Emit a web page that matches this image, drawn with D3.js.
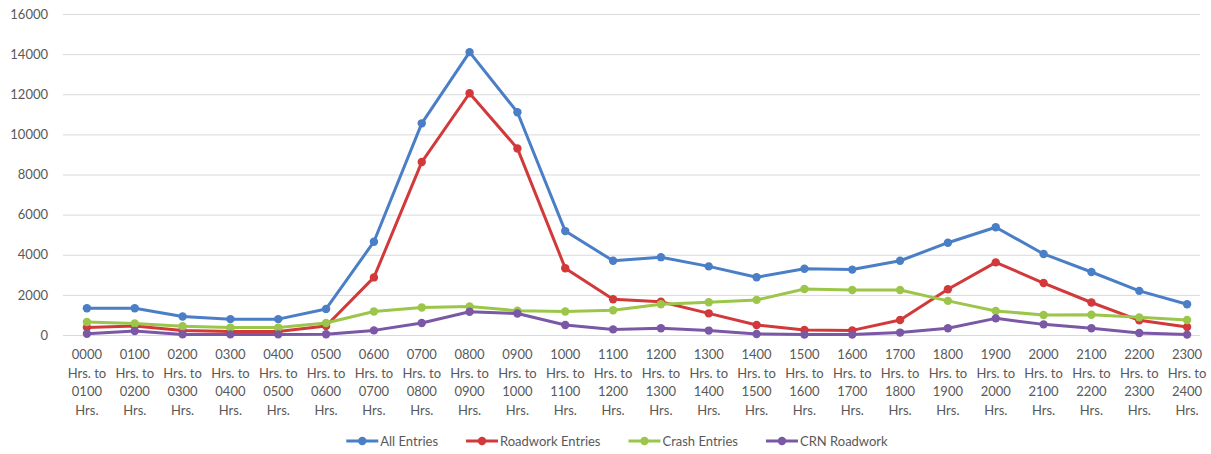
<!DOCTYPE html>
<html>
<head>
<meta charset="utf-8">
<script src="https://cdn.jsdelivr.net/npm/d3@7/dist/d3.min.js"></script>
<style>
  html, body { margin: 0; padding: 0; background: #fff; }
  svg { display: block; }
  text { font-family: Lato, "Open Sans", sans-serif; fill: #595959; }
</style>
</head>
<body>
<svg id="chart" width="1211" height="454"></svg>
<script>
const categories = ["0000","0100","0200","0300","0400","0500","0600","0700","0800","0900","1000","1100",
                    "1200","1300","1400","1500","1600","1700","1800","1900","2000","2100","2200","2300"];
const categoryEnds = ["0100","0200","0300","0400","0500","0600","0700","0800","0900","1000","1100","1200",
                      "1300","1400","1500","1600","1700","1800","1900","2000","2100","2200","2300","2400"];
const seriesNames = ["All Entries", "Roadwork Entries", "Crash Entries", "CRN Roadwork"];
const allEntries = [1330,1330,920,790,790,1300,4650,10550,14100,11100,5180,3700,3880,3420,2880,3300,3260,3700,4600,5370,4040,3140,2200,1530];
const roadworkEntries = [380,450,220,170,170,450,2870,8620,12050,9300,3330,1780,1660,1080,500,250,230,750,2280,3620,2590,1620,730,400];
const crashEntries = [650,570,440,370,370,600,1170,1370,1420,1210,1170,1230,1530,1630,1750,2290,2240,2240,1700,1200,1000,1010,880,750];
const crnRoadwork = [60,200,30,30,30,40,230,600,1160,1070,500,280,340,220,50,20,20,120,340,830,530,340,100,20];
const yTicks = [0,2000,4000,6000,8000,10000,12000,14000,16000];

(function () {
const colors = ["#4a7ec6", "#d2393b", "#9cc64a", "#7a58a6"];
const seriesData = [allEntries, roadworkEntries, crashEntries, crnRoadwork];

const svg = d3.select("#chart");
const mLeft = 63, mRight = 1211, mTop = 14, mBottom = 335;

const x = d3.scaleBand().domain(categories).range([mLeft, mRight]).paddingInner(0).paddingOuter(0);
const y = d3.scaleLinear().domain([0, 16000]).range([mBottom, mTop]);

// gridlines
const yAxis = d3.axisLeft(y).tickValues(yTicks).tickSize(-(1200 - mLeft)).tickPadding(15).tickFormat(d3.format("d"));
const gy = svg.append("g").attr("transform", `translate(${mLeft},0)`).call(yAxis);
gy.select(".domain").remove();
gy.selectAll(".tick line").attr("stroke", "#d9d9d9").attr("stroke-width", 1);
gy.selectAll(".tick text").attr("font-size", 13).attr("fill", "#595959").style("font-family", "Lato, sans-serif");

// x labels
const gx = svg.append("g");
categories.forEach((c, i) => {
  const cx = x(c) + x.bandwidth() / 2;
  const lines = [c, "Hrs. to", categoryEnds[i], "Hrs."];
  const t = gx.append("text").attr("text-anchor", "middle").attr("font-size", 13);
  lines.forEach((l, j) => {
    t.append("tspan").attr("x", cx).attr("y", 359 + j * 18.5).text(l);
  });
});

// lines
const line = d3.line().x((d, i) => x(categories[i]) + x.bandwidth() / 2).y(d => y(d));
seriesData.forEach((data, s) => {
  svg.append("path").datum(data).attr("d", line).attr("fill", "none")
    .attr("stroke", colors[s]).attr("stroke-width", 3).attr("stroke-linejoin", "round");
  svg.append("g").selectAll("circle").data(data).join("circle")
    .attr("cx", (d, i) => x(categories[i]) + x.bandwidth() / 2)
    .attr("cy", d => y(d)).attr("r", 4.2).attr("fill", colors[s]);
});

// legend
const legend = svg.append("g");
const itemWidths = [];
const tmp = legend.append("g");
seriesNames.forEach(n => {
  const t = tmp.append("text").attr("font-size", 13).text(n);
  itemWidths.push(t.node().getComputedTextLength());
});
tmp.remove();
const symW = 32, gapT = 2, gapItem = 28;
const total = d3.sum(itemWidths) + seriesNames.length * (symW + gapT) + (seriesNames.length - 1) * gapItem;
let lx = 617 - total / 2;
const ly = 441;
seriesNames.forEach((n, s) => {
  legend.append("line").attr("x1", lx).attr("x2", lx + symW).attr("y1", ly).attr("y2", ly)
    .attr("stroke", colors[s]).attr("stroke-width", 3);
  legend.append("circle").attr("cx", lx + symW / 2).attr("cy", ly).attr("r", 4.2).attr("fill", colors[s]);
  legend.append("text").attr("x", lx + symW + gapT).attr("y", ly).attr("dy", "0.35em")
    .attr("font-size", 13).text(n);
  lx += symW + gapT + itemWidths[s] + gapItem;
});
})();
</script>
</body>
</html>
